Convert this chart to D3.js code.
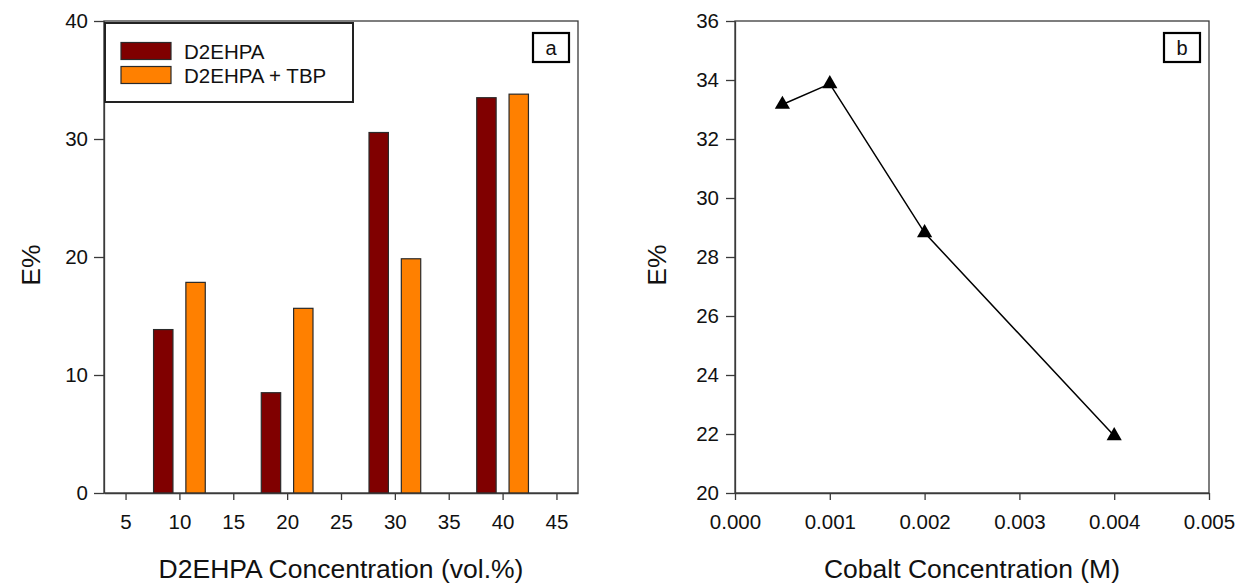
<!DOCTYPE html>
<html>
<head>
<meta charset="utf-8">
<script src="https://cdn.jsdelivr.net/npm/d3@7"></script>
<style>
  html, body { margin: 0; padding: 0; background: #fff; }
  svg { display: block; font-family: "Liberation Sans", Arial, sans-serif; }
  .tick text { fill: #111; }
</style>
</head>
<body>
<svg id="chart" width="1241" height="583"></svg>
<script>
// Panel a: extraction vs D2EHPA concentration
const concentrations = [10, 20, 30, 40];
const seriesNames = ["D2EHPA", "D2EHPA + TBP"];
const d2ehpaValues = [13.85, 8.5, 30.55, 33.5];
const d2ehpaTbpValues = [17.85, 15.65, 19.85, 33.8];
const seriesColors = ["#800000", "#ff8000"];
const barXTicks = [5, 10, 15, 20, 25, 30, 35, 40, 45];
const barYTicks = [0, 10, 20, 30, 40];

// Panel b: extraction vs cobalt concentration
const cobaltConc = [0.0005, 0.001, 0.002, 0.004];
const cobaltE = [33.17, 33.87, 28.82, 21.94];
const lineXTicks = [0, 0.001, 0.002, 0.003, 0.004, 0.005];
const lineYTicks = [20, 22, 24, 26, 28, 30, 32, 34, 36];

const svg = d3.select("#chart");
const axisColor = "#3a3a3a";
const tickFont = 20.5;
const titleFont = 26.5;

function styleAxis(g) {
  g.selectAll("path, line").attr("stroke", axisColor).attr("stroke-width", 1.3);
  g.selectAll("text").attr("font-size", tickFont).attr("fill", "#111");
}

function frame(x0, x1, y0, y1) {
  svg.append("rect")
    .attr("x", x0).attr("y", y0)
    .attr("width", x1 - x0).attr("height", y1 - y0)
    .attr("fill", "none").attr("stroke", axisColor).attr("stroke-width", 1.3);
}

function panelLabel(text, x, y) {
  svg.append("rect").attr("x", x).attr("y", y).attr("width", 36).attr("height", 29)
    .attr("fill", "#fff").attr("stroke", "#000").attr("stroke-width", 2.2);
  svg.append("text").attr("x", x + 18).attr("y", y + 21.5)
    .attr("text-anchor", "middle").attr("font-size", 20).attr("fill", "#111").text(text);
}

// ---------- Panel a ----------
const ax = d3.scaleLinear().domain([3, 47]).range([104, 578]);
const ay = d3.scaleLinear().domain([0, 40]).range([493, 21]);

frame(104, 578, 21, 493);

const barHalfGap = 0.6, barW = 1.8;
const barSeries = [d2ehpaValues, d2ehpaTbpValues];
barSeries.forEach((vals, si) => {
  svg.append("g").selectAll("rect")
    .data(concentrations.map((c, i) => ({ c, v: vals[i] })))
    .join("rect")
    .attr("x", d => si === 0 ? ax(d.c - barHalfGap - barW) : ax(d.c + barHalfGap))
    .attr("width", ax(barW) - ax(0))
    .attr("y", d => ay(d.v))
    .attr("height", d => ay(0) - ay(d.v))
    .attr("fill", seriesColors[si])
    .attr("stroke", "#2a2a2a").attr("stroke-width", 1.2);
});

svg.append("g").attr("transform", "translate(0,493)")
  .call(d3.axisBottom(ax).tickValues(barXTicks).tickSizeInner(7).tickSizeOuter(0).tickPadding(14).tickFormat(d3.format("d")))
  .call(styleAxis);
svg.append("g").attr("transform", "translate(104,0)")
  .call(d3.axisLeft(ay).tickValues(barYTicks).tickSizeInner(10).tickSizeOuter(0).tickPadding(6).tickFormat(d3.format("d")))
  .call(styleAxis);

svg.append("text").attr("x", (104 + 578) / 2).attr("y", 578)
  .attr("text-anchor", "middle").attr("font-size", titleFont).attr("fill", "#111")
  .text("D2EHPA Concentration (vol.%)");
svg.append("text").attr("transform", "translate(40,265) rotate(-90)")
  .attr("text-anchor", "middle").attr("font-size", titleFont).attr("fill", "#111").text("E%");

// legend
const legend = svg.append("g");
legend.append("rect").attr("x", 105).attr("y", 23).attr("width", 248).attr("height", 79)
  .attr("fill", "#fff").attr("stroke", "#222").attr("stroke-width", 2);
seriesNames.forEach((name, i) => {
  const y = 42.5 + i * 24;
  legend.append("rect").attr("x", 121).attr("y", y).attr("width", 50).attr("height", 17)
    .attr("fill", seriesColors[i]).attr("stroke", "#2a2a2a").attr("stroke-width", 1.2);
  legend.append("text").attr("x", 184).attr("y", y + 16)
    .attr("font-size", 20.5).attr("fill", "#111").text(name);
});

panelLabel("a", 533, 33);

// ---------- Panel b ----------
const bx = d3.scaleLinear().domain([0, 0.005]).range([735, 1209]);
const by = d3.scaleLinear().domain([20, 36]).range([493, 21]);

frame(735, 1209, 21, 493);

svg.append("g").attr("transform", "translate(0,493)")
  .call(d3.axisBottom(bx).tickValues(lineXTicks).tickSizeInner(7).tickSizeOuter(0).tickPadding(14).tickFormat(d3.format(".3f")))
  .call(styleAxis);
svg.append("g").attr("transform", "translate(735,0)")
  .call(d3.axisLeft(by).tickValues(lineYTicks).tickSizeInner(9).tickSizeOuter(0).tickPadding(7).tickFormat(d3.format("d")))
  .call(styleAxis);

const pts = cobaltConc.map((c, i) => ({ c, e: cobaltE[i] }));
svg.append("path").datum(pts)
  .attr("fill", "none").attr("stroke", "#000").attr("stroke-width", 1.5)
  .attr("d", d3.line().x(d => bx(d.c)).y(d => by(d.e)));
svg.append("g").selectAll("path.pt").data(pts).join("path")
  .attr("class", "pt")
  .attr("transform", d => `translate(${bx(d.c)},${by(d.e)})`)
  .attr("d", d3.symbol(d3.symbolTriangle, 100))
  .attr("fill", "#000");

svg.append("text").attr("x", (735 + 1209) / 2).attr("y", 578)
  .attr("text-anchor", "middle").attr("font-size", titleFont).attr("fill", "#111")
  .text("Cobalt Concentration (M)");
svg.append("text").attr("transform", "translate(666,265) rotate(-90)")
  .attr("text-anchor", "middle").attr("font-size", titleFont).attr("fill", "#111").text("E%");

panelLabel("b", 1164, 33);
</script>
</body>
</html>
